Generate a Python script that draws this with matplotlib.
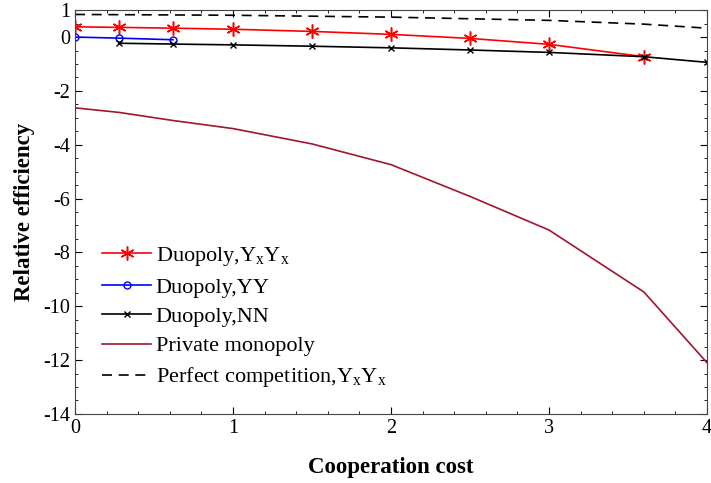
import matplotlib
matplotlib.use('Agg')
import matplotlib.pyplot as plt
from matplotlib.ticker import MultipleLocator

plt.rcParams['font.family'] = ['Liberation Serif', 'DejaVu Serif']
plt.rcParams['mathtext.fontset'] = 'custom'
plt.rcParams['mathtext.rm'] = 'Liberation Serif'
plt.rcParams['mathtext.it'] = 'Liberation Serif'
plt.rcParams['axes.unicode_minus'] = False

# cooperation cost grid
cost = [0, 0.28, 0.62, 1, 1.5, 2, 2.5, 3, 3.6, 4]

duo_yxyx_x = [0, 0.28, 0.62, 1, 1.5, 2, 2.5, 3, 3.6]
duo_yxyx = [0.38, 0.36, 0.33, 0.29, 0.21, 0.1, -0.05, -0.27, -0.73]

duo_yy_x = [0, 0.28, 0.62]
duo_yy = [0.0, -0.04, -0.1]

duo_nn_x = [0.28, 0.62, 1, 1.5, 2, 2.5, 3, 3.6, 4]
duo_nn = [-0.23, -0.26, -0.29, -0.34, -0.4, -0.48, -0.57, -0.73, -0.94]

monopoly = [-2.63, -2.8, -3.1, -3.4, -3.97, -4.74, -5.92, -7.17, -9.47, -12.1]

perfect_x = [0, 1, 2, 3, 3.6, 4]
perfect = [0.84, 0.81, 0.74, 0.62, 0.48, 0.33]

fig = plt.figure(figsize=(7.11, 4.83), dpi=100)
ax = fig.add_axes([0.1055, 0.143, 0.889, 0.836])

ax.plot(duo_yxyx_x, duo_yxyx, color='r', marker=(6, 2, 0), markersize=10, mew=1.1, lw=1.2,
        label='Duopoly,Y$_\\mathrm{x}$Y$_\\mathrm{x}$')
ax.plot(duo_yy_x, duo_yy, color='b', marker='o', markersize=5, mfc='none', lw=1.2,
        label='Duopoly,YY')
ax.plot(duo_nn_x, duo_nn, color='k', marker='x', markersize=5, lw=1.2,
        label='Duopoly,NN')
ax.plot(cost, monopoly, color='#A2142F', lw=1.2, label='Private monopoly')
ax.plot(perfect_x, perfect, color='k', ls=(0, (6, 4)), lw=1.2,
        label='Perfect competition,Y$_\\mathrm{x}$Y$_\\mathrm{x}$')

ax.set_xlim(0, 4)
ax.set_ylim(-14, 1)
ax.set_xticks([0, 1, 2, 3, 4])
ax.set_yticks([-14, -12, -10, -8, -6, -4, -2, 0, 1])
ax.xaxis.set_minor_locator(MultipleLocator(0.2))
ax.yaxis.set_minor_locator(MultipleLocator(0.5))
ax.tick_params(which='both', direction='in', top=True, right=True, labelsize=14.5)
ax.tick_params(which='major', length=5)
ax.tick_params(which='minor', length=2.5)
for s in ax.spines.values():
    s.set_color('#444444')

ax.set_xlabel('Cooperation cost', fontsize=16.5, fontweight='bold', labelpad=14)
ax.set_ylabel('Relative efficiency', fontsize=16.5, fontweight='bold', labelpad=6)

ax.legend(loc='lower left', bbox_to_anchor=(0.022, 0.028), frameon=False, fontsize=16,
          handlelength=2.2, handletextpad=0.2, labelspacing=0.4, borderaxespad=0.2)

fig.savefig('out.png', dpi=100)
